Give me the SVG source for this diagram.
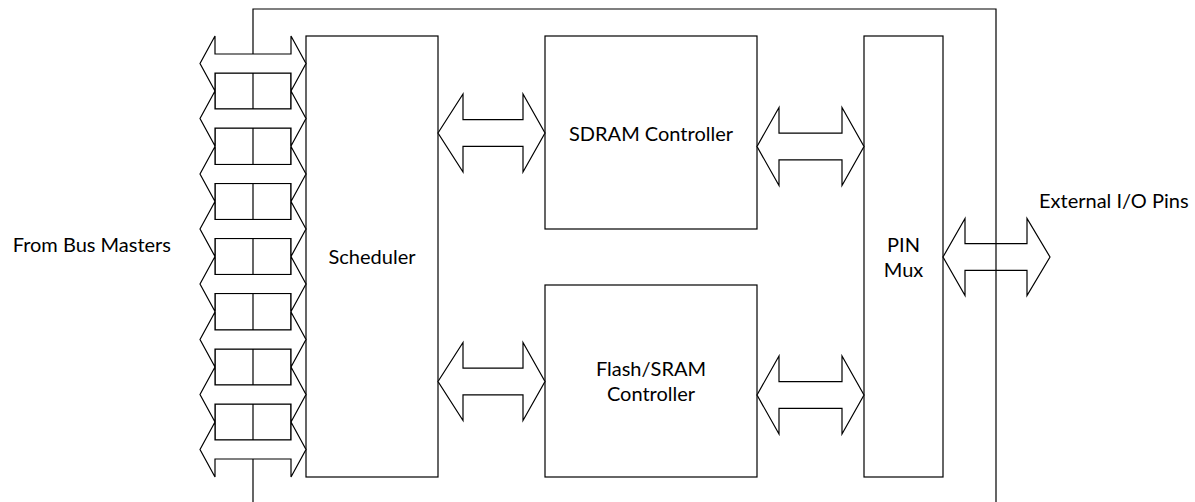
<svg xmlns="http://www.w3.org/2000/svg" xmlns:xlink="http://www.w3.org/1999/xlink" width="1195" height="502" viewBox="0 0 1195 502">
<style>
.ln{fill:none;stroke:#000;stroke-width:1.2}
.bx{fill:#fff;stroke:#000;stroke-width:1.2}
.cell{fill:none;stroke:#000;stroke-width:1.2}
.ar{fill:#fff;stroke:#000;stroke-width:1.2;stroke-linejoin:miter}
.t{font-family:Lato,"Open Sans","Liberation Sans",sans-serif;font-size:20px;fill:#000}
.c{text-anchor:middle}
</style>
<defs>
<path id="qa" d="M200,0 L215,-27.5 L215,-9.5 L291,-9.5 L291,-27.5 L306,0 L291,27.5 L291,9.5 L215,9.5 L215,27.5 Z"/>
</defs>
<rect width="1195" height="502" fill="#fff"/>
<g id="frame">
<path class="ln" d="M253,503 V9 H996 V503"/>
</g>
<g id="queue">
<rect class="cell" x="215" y="73" width="76" height="36"/>
<rect class="cell" x="215" y="128" width="76" height="36.5"/>
<rect class="cell" x="215" y="183.5" width="76" height="36"/>
<rect class="cell" x="215" y="238.5" width="76" height="36"/>
<rect class="cell" x="215" y="293.5" width="76" height="36.5"/>
<rect class="cell" x="215" y="349" width="76" height="36"/>
<rect class="cell" x="215" y="404" width="76" height="36"/>
</g>
<g id="scheduler">
<rect class="bx" x="306" y="36" width="132" height="441"/>
<text class="t c" x="372" y="264">Scheduler</text>
</g>
<g id="sdram">
<rect class="bx" x="545" y="36" width="212" height="193"/>
<text class="t c" x="651" y="140.5">SDRAM Controller</text>
</g>
<g id="flash">
<rect class="bx" x="545" y="285" width="212" height="192"/>
<text class="t c" x="651" y="376">Flash/SRAM</text>
<text class="t c" x="651" y="401">Controller</text>
</g>
<g id="pinmux">
<rect class="bx" x="864" y="36" width="79" height="441"/>
<text class="t c" x="903.5" y="251.5">PIN</text>
<text class="t c" x="903.5" y="276.5">Mux</text>
</g>
<g id="connectors">
<use class="ar" href="#qa" xlink:href="#qa" transform="translate(0,63.5)"/>
<use class="ar" href="#qa" xlink:href="#qa" transform="translate(0,118.5)"/>
<use class="ar" href="#qa" xlink:href="#qa" transform="translate(0,174)"/>
<use class="ar" href="#qa" xlink:href="#qa" transform="translate(0,229)"/>
<use class="ar" href="#qa" xlink:href="#qa" transform="translate(0,284)"/>
<use class="ar" href="#qa" xlink:href="#qa" transform="translate(0,339.5)"/>
<use class="ar" href="#qa" xlink:href="#qa" transform="translate(0,394.5)"/>
<use class="ar" href="#qa" xlink:href="#qa" transform="translate(0,449.5)"/>
<path class="ar" d="M438,133 L463,94 L463,119.7 L523,119.7 L523,94 L545,133 L523,172 L523,146.3 L463,146.3 L463,172 Z"/>
<path class="ar" d="M438,381.5 L463,342.5 L463,368.2 L523,368.2 L523,342.5 L545,381.5 L523,420.5 L523,394.8 L463,394.8 L463,420.5 Z"/>
<path class="ar" d="M757,146.5 L779,107.5 L779,133.2 L842,133.2 L842,107.5 L864,146.5 L842,185.5 L842,159.8 L779,159.8 L779,185.5 Z"/>
<path class="ar" d="M757,395 L779,356 L779,381.7 L842,381.7 L842,356 L864,395 L842,434 L842,408.3 L779,408.3 L779,434 Z"/>
<path class="ar" d="M943,257 L965,218.5 L965,243.7 L1027,243.7 L1027,218.5 L1050,257 L1027,295.5 L1027,270.3 L965,270.3 L965,295.5 Z"/>
<path class="ln" d="M996,243.7 V270.3"/>
</g>
<g id="labels">
<text class="t" x="171" y="252" text-anchor="end">From Bus Masters</text>
<text class="t" x="1039" y="208">External I/O Pins</text>
</g>
</svg>
